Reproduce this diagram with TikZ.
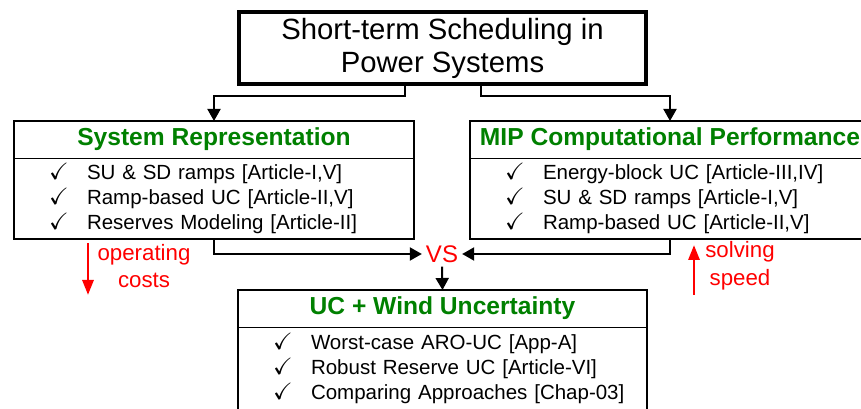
\documentclass[tikz,border=0pt]{standalone}
\usepackage{amssymb}
\usepackage{fontspec}
\setmainfont{Liberation Sans}
\usetikzlibrary{positioning,arrows.meta}
\definecolor{titlegreen}{RGB}{0,128,0}
\newcommand{\chk}{\hspace*{0.75cm}\makebox[1.14cm][l]{\scalebox{1.15}{$\checkmark$}}}

\begin{document}
\begin{tikzpicture}[main box/.style={draw, line width=3.4pt, minimum width=12.21cm, minimum height=2.16cm, align=center, font=\fontsize{25}{27.5}\selectfont},
    head box/.style={draw, line width=0.8pt, outer sep=0pt, minimum height=1.11cm, text=titlegreen, font=\fontsize{21}{25}\selectfont\bfseries},
    list box/.style={draw, line width=0.8pt, outer sep=0pt, minimum height=2.43cm, align=left, inner xsep=0.3cm, font=\fontsize{17.5}{21.3}\selectfont},
    frame/.style={draw, line width=1.7pt},
    conn/.style={-{Triangle[length=0.36cm,width=0.39cm]}, line width=1.7pt},
    trend/.style={-{Triangle[length=0.45cm,width=0.33cm]}, line width=2.5pt, red},
    trend label/.style={text=red, align=center, font=\fontsize{19}{23.5}\selectfont}]
    \useasboundingbox (0,0) rectangle (25.83,12.27);
    \clip (0,0) rectangle (25.83,12.27);

    \node[main box] (sched) at (13.275,10.82) {Short-term Scheduling in\\Power Systems};

    \node[head box, minimum width=12cm] (sysT) at (6.42,8.085) {System Representation};
    \node[list box, text width=11.4cm, below=0pt of sysT] (sysL) {\chk SU \& SD ramps [Article-I,V]\\ \chk Ramp-based UC [Article-II,V]\\ \chk Reserves Modeling [Article-II]};
    \path[frame] (sysT.north west) rectangle (sysL.south east);

    \node[head box, minimum width=12cm] (mipT) at (20.1,8.085) {MIP Computational Performance};
    \node[list box, text width=11.4cm, below=0pt of mipT] (mipL) {\chk Energy-block UC [Article-III,IV]\\ \chk SU \& SD ramps [Article-I,V]\\ \chk Ramp-based UC [Article-II,V]};
    \path[frame] (mipT.north west) rectangle (mipL.south east);

    \node[head box, minimum width=12.27cm] (wndT) at (13.275,3.015) {UC + Wind Uncertainty};
    \node[list box, text width=11.67cm, minimum height=2.49cm, below=0pt of wndT] (wndL) {\chk Worst-case ARO-UC [App-A]\\ \chk Robust Reserve UC [Article-VI]\\ \chk Comparing Approaches [Chap-03]};
    \path[frame] (wndT.north west) rectangle (wndL.south east);

    \node[text=red, font=\fontsize{20.5}{24}\selectfont] (vs) at (13.26,4.65) {VS};

    \draw[conn] ([xshift=-1.14cm]sched.south) -- ++(0,-0.3) -| (sysT.north);
    \draw[conn] ([xshift=1.16cm]sched.south) -- ++(0,-0.3) -| (mipT.north);
    \draw[conn] (sysL.south) |- (vs.west);
    \draw[conn] (mipL.south) |- (vs.east);
    \draw[conn] (vs.south) -- (wndT.north);

    % trends
    \coordinate (opA) at (2.64,4.98);
    \coordinate (opB) at (2.64,3.42);
    \draw[trend] (opA) -- (opB);
    \node[trend label] (opcost) at (4.32,4.29) {operating\\costs};
    \coordinate (spA) at (20.82,3.42);
    \coordinate (spB) at (20.82,4.92);
    \draw[trend] (spA) -- (spB);
    \node[trend label] (speed) at (22.2,4.29) {solving\\speed};
\end{tikzpicture}
\end{document}
